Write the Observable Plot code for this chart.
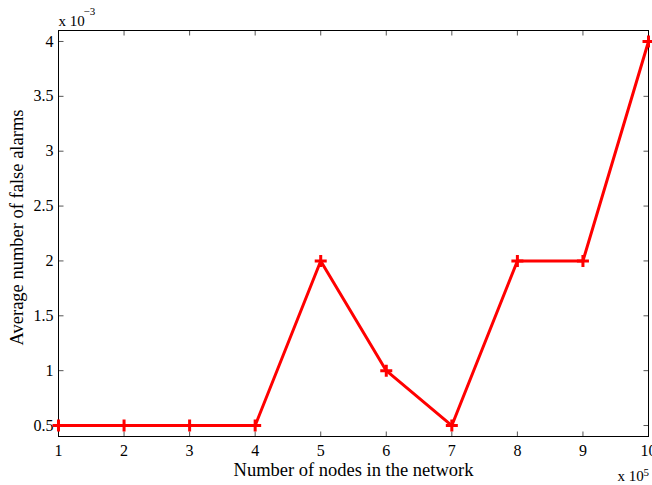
<!DOCTYPE html>
<html>
<head>
<meta charset="utf-8">
<script src="https://cdn.jsdelivr.net/npm/d3@7"></script>
<script src="https://cdn.jsdelivr.net/npm/@observablehq/plot@0.6"></script>
<style>
  html, body { margin: 0; padding: 0; background: white; }
  #chart svg { display: block; }
</style>
</head>
<body>
<div id="chart"></div>
<script>
// Data (x in units of 10^5 nodes, y in units of 10^-3)
const nodes = [1, 2, 3, 4, 5, 6, 7, 8, 9, 10];
const falseAlarms = [0.5, 0.5, 0.5, 0.5, 2, 1, 0.5, 2, 2, 4];
const xTicks = [1, 2, 3, 4, 5, 6, 7, 8, 9, 10];
const yTicks = [0.5, 1, 1.5, 2, 2.5, 3, 3.5, 4];
const xLabel = "Number of nodes in the network";
const yLabel = "Average number of false alarms";
const xMultiplier = ["x 10", "5"];
const yMultiplier = ["x 10", "\u22123"];

const data = nodes.map((x, i) => ({x, y: falseAlarms[i]}));

const lineSym = (dx, dy) => ({
  draw(ctx, size) {
    const r = Math.sqrt(size / Math.PI);
    ctx.moveTo(0, 0);
    ctx.lineTo(dx * r, dy * r);
  }
});
const plusSym = {
  draw(ctx, size) {
    const r = Math.sqrt(size / Math.PI);
    ctx.moveTo(-r, 0); ctx.lineTo(r, 0);
    ctx.moveTo(0, -r); ctx.lineTo(0, r);
  }
};

const font = "'Liberation Serif', 'Times New Roman', serif";
const tickColor = "#555";

const plot = Plot.plot({
  width: 652,
  height: 485,
  marginLeft: 58,
  marginRight: 4,
  marginTop: 30,
  marginBottom: 49,
  style: {fontFamily: font, fontSize: "16px", color: "black", background: "white"},
  x: {domain: [1, 10]},
  y: {domain: [0.4, 4.1]},
  marks: [
    Plot.axisX({ticks: xTicks, tickSize: 0, tickPadding: 8, tickFormat: d => String(d), label: null, fontSize: 16}),
    Plot.axisY({ticks: yTicks, tickSize: 0, tickPadding: 5, tickFormat: d => String(d), label: null, fontSize: 16}),
    // inward tick marks on all four sides
    Plot.dot(xTicks, {x: d => d, frameAnchor: "bottom", symbol: lineSym(0, -1), r: 5, stroke: tickColor, fill: "none", strokeWidth: 1}),
    Plot.dot(xTicks, {x: d => d, frameAnchor: "top", symbol: lineSym(0, 1), r: 5, stroke: tickColor, fill: "none", strokeWidth: 1}),
    Plot.dot(yTicks, {y: d => d, frameAnchor: "left", symbol: lineSym(1, 0), r: 5, stroke: tickColor, fill: "none", strokeWidth: 1}),
    Plot.dot(yTicks, {y: d => d, frameAnchor: "right", symbol: lineSym(-1, 0), r: 5, stroke: tickColor, fill: "none", strokeWidth: 1}),
    Plot.frame({stroke: "black", strokeWidth: 1}),
    Plot.line(data, {x: "x", y: "y", stroke: "#ff0000", strokeWidth: 3, clip: false}),
    Plot.dot(data, {x: "x", y: "y", symbol: plusSym, r: 6, stroke: "#ff0000", fill: "none", strokeWidth: 3}),
    // axis titles
    Plot.text([xLabel], {text: d => d, frameAnchor: "bottom", textAnchor: "middle", dy: 39, fontSize: 18.5, fill: "black"}),
    Plot.text([yLabel], {text: d => d, frameAnchor: "left", textAnchor: "middle", lineAnchor: "middle", rotate: -90, dx: -41, dy: -6, fontSize: 18.5, fill: "black"}),
    // multipliers
    Plot.text([yMultiplier[0]], {text: d => d, frameAnchor: "top-left", textAnchor: "start", dy: -15, fontSize: 15, fill: "black"}),
    Plot.text([yMultiplier[1]], {text: d => d, frameAnchor: "top-left", textAnchor: "start", dx: 25, dy: -23, fontSize: 11, fill: "black"}),
    Plot.text([xMultiplier[0]], {text: d => d, frameAnchor: "bottom-right", textAnchor: "start", dx: -31, dy: 44, fontSize: 15, fill: "black"}),
    Plot.text([xMultiplier[1]], {text: d => d, frameAnchor: "bottom-right", textAnchor: "start", dx: -5, dy: 39, fontSize: 11, fill: "black"})
  ]
});
document.getElementById("chart").appendChild(plot);
</script>
</body>
</html>
